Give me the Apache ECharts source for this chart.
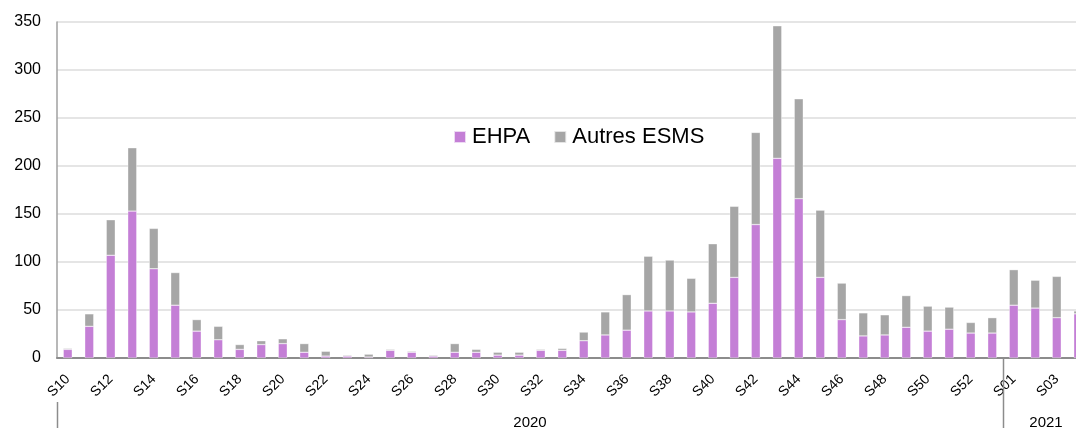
<!DOCTYPE html>
<html>
<head>
<meta charset="utf-8">
<script src="https://cdn.jsdelivr.net/npm/echarts@6/dist/echarts.min.js"></script>
<style>
  html, body { margin: 0; padding: 0; background: #ffffff; overflow: hidden; }
  /* the plot runs slightly past the right border of the page, cutting the last week */
  #chart { width: 1089px; height: 428px; }
</style>
</head>
<body>
<div id="chart"></div>
<script>
// Weekly counts, stacked: EHPA + other medico-social establishments
const weeks = [
  'S10','S11','S12','S13','S14','S15','S16','S17','S18','S19',
  'S20','S21','S22','S23','S24','S25','S26','S27','S28','S29',
  'S30','S31','S32','S33','S34','S35','S36','S37','S38','S39',
  'S40','S41','S42','S43','S44','S45','S46','S47','S48','S49',
  'S50','S51','S52','S53','S01','S02','S03','S04'
];
const ehpa = [
  9, 33, 107, 153, 93, 55, 28, 19, 9, 14,
  15, 6, 2, 2, 1, 8, 6, 2, 6, 6,
  3, 3, 8, 8, 18, 24, 29, 49, 49, 48,
  57, 84, 139, 208, 166, 84, 40, 23, 24, 32,
  28, 30, 26, 26, 55, 52, 42, 46
];
const autresEsms = [
  1, 13, 37, 66, 42, 34, 12, 14, 5, 4,
  5, 9, 5, 1, 3, 1, 1, 1, 9, 3,
  3, 3, 1, 2, 9, 24, 37, 57, 53, 35,
  62, 74, 96, 138, 104, 70, 38, 24, 21, 33,
  26, 23, 11, 16, 37, 29, 43, 3
];
// Year groups on the second level of the category axis (index of first week)
const yearLabels = ['2020', '2021'];
const yearStarts = [0, 44];
const yTicks = [0, 50, 100, 150, 200, 250, 300, 350];

const FONT = '"Liberation Sans", Arial, sans-serif';
const PURPLE = '#c47fd6';
const GREY = '#a6a6a6';

const chart = echarts.init(document.getElementById('chart'), null, { renderer: 'canvas' });

chart.setOption({
  animation: false,
  backgroundColor: '#ffffff',
  textStyle: { fontFamily: FONT },
  grid: { left: 57, right: 0, top: 22, bottom: 70, containLabel: false },
  legend: {
    left: 453, top: 126, padding: 0,
    itemWidth: 12, itemHeight: 12, itemGap: 23,
    icon: 'rect',
    textStyle: { fontFamily: FONT, fontSize: 22, color: '#000000', padding: [0, 0, 0, 1] },
    data: ['EHPA', 'Autres ESMS']
  },
  xAxis: {
    type: 'category',
    data: weeks,
    boundaryGap: true,
    axisLine: { show: true, lineStyle: { color: '#8c8c8c', width: 2 } },
    axisTick: { show: false },
    axisLabel: {
      interval: 1, rotate: 45, margin: 19,
      fontFamily: FONT, fontSize: 14, color: '#000000'
    }
  },
  yAxis: {
    type: 'value',
    min: yTicks[0], max: yTicks[yTicks.length - 1], interval: 50,
    axisLine: { show: true, lineStyle: { color: '#a0a0a0', width: 1.5 } },
    axisTick: { show: false },
    splitLine: { show: true, lineStyle: { color: '#dcdcdc', width: 1.5 } },
    axisLabel: { margin: 16, fontFamily: FONT, fontSize: 16, color: '#000000' }
  },
  series: [
    {
      name: 'EHPA', type: 'bar', stack: 'total', data: ehpa,
      barWidth: 9,
      itemStyle: { color: PURPLE, borderColor: 'rgba(255,255,255,0.7)', borderWidth: 0.5 }
    },
    {
      name: 'Autres ESMS', type: 'bar', stack: 'total', data: autresEsms,
      barWidth: 9,
      itemStyle: { color: GREY, borderColor: 'rgba(255,255,255,0.7)', borderWidth: 0.5 }
    }
  ]
});

// Second level of the category axis: year labels and group separators
function drawYearLevel() {
  const c0 = chart.convertToPixel({ xAxisIndex: 0 }, weeks[0]);
  const c1 = chart.convertToPixel({ xAxisIndex: 0 }, weeks[1]);
  const band = c1 - c0;
  const edge = (i) => c0 + (i - 0.5) * band;
  const axisY = chart.convertToPixel({ yAxisIndex: 0 }, 0);
  const elements = [];
  yearStarts.forEach((start, k) => {
    const end = k + 1 < yearStarts.length ? yearStarts[k + 1] : weeks.length;
    const x0 = edge(start);
    const x1 = edge(end);
    const top = k === 0 ? axisY + 44 : axisY;
    elements.push({
      type: 'line', silent: true, z: 1,
      shape: { x1: Math.round(x0) + 0.5, y1: top, x2: Math.round(x0) + 0.5, y2: 428 },
      style: { stroke: '#8c8c8c', lineWidth: 1.5 }
    });
    elements.push({
      type: 'text', silent: true, z: 2,
      x: (x0 + x1) / 2, y: 423,
      style: {
        text: yearLabels[k], fill: '#000000',
        font: '15px ' + FONT, align: 'center', verticalAlign: 'middle'
      }
    });
  });
  chart.setOption({ graphic: { elements } });
}
drawYearLevel();
</script>
</body>
</html>
